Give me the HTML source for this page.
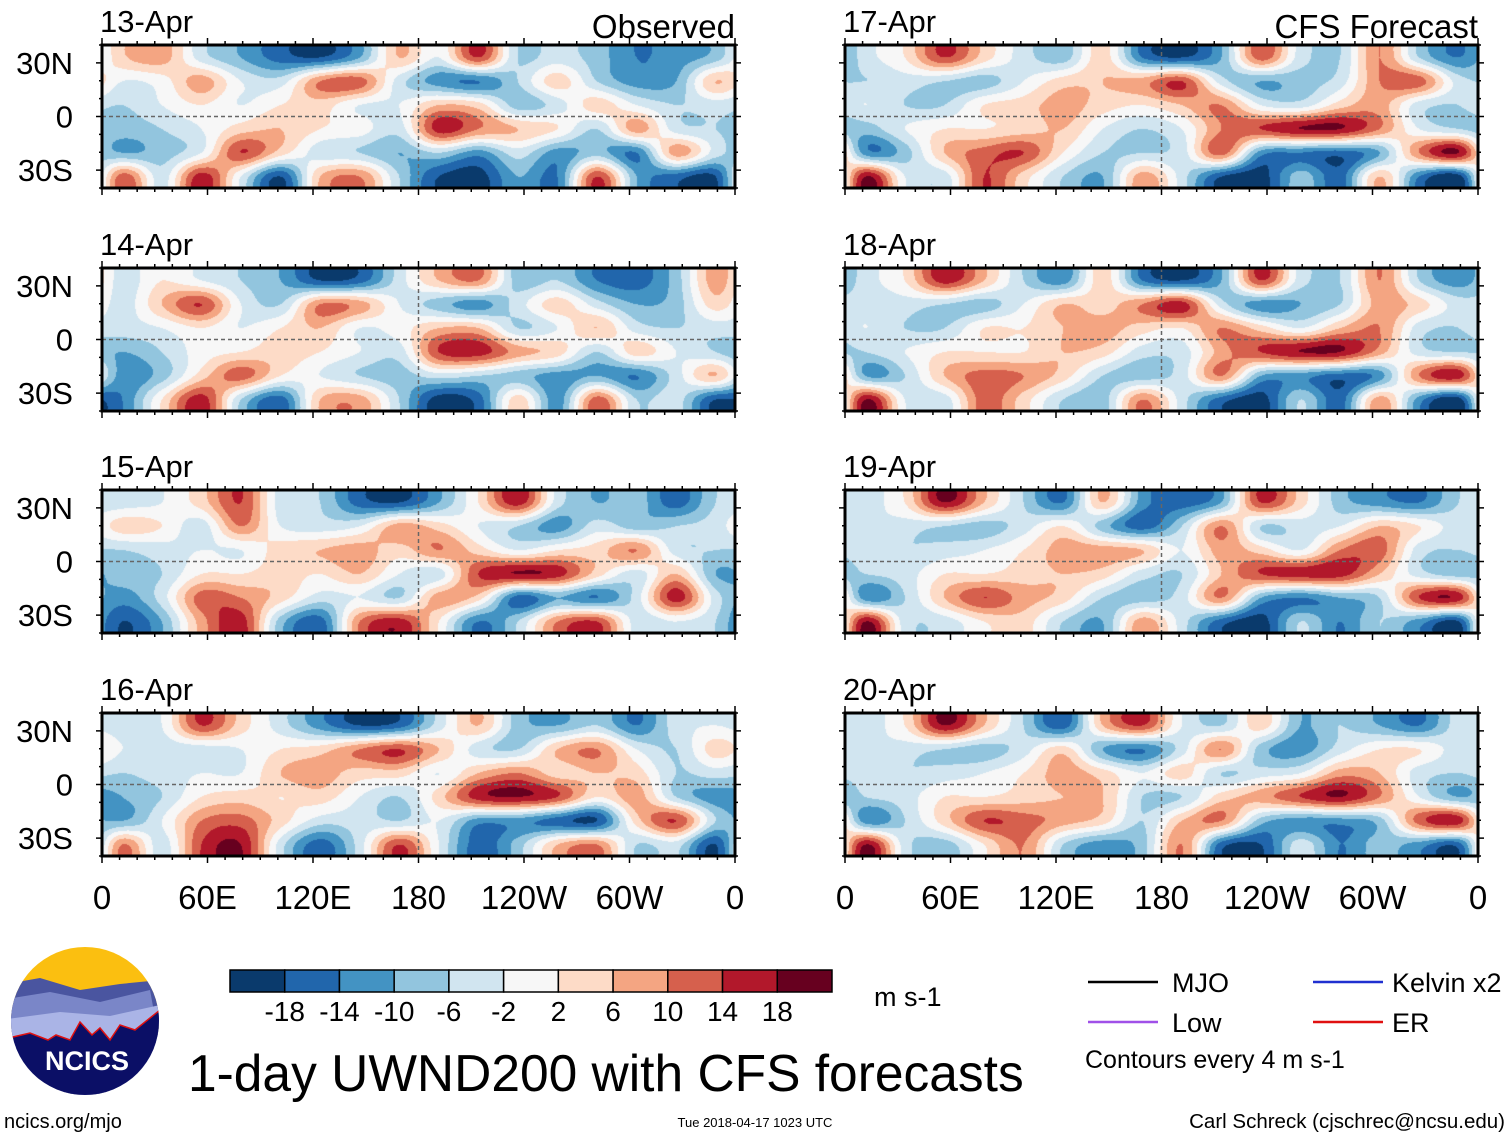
<!DOCTYPE html>
<html><head><meta charset="utf-8"><style>
html,body{margin:0;padding:0;background:#fff;}
#root{position:relative;width:1510px;height:1137px;overflow:hidden;font-family:"Liberation Sans",Arial,sans-serif;}
canvas{position:absolute;}
svg{position:absolute;left:0;top:0;}
</style></head><body>
<div id="root">
<svg id="ov" width="1510" height="1137"></svg>
</div>
<script>
const panelDates = ["13-Apr","14-Apr","15-Apr","16-Apr","17-Apr","18-Apr","19-Apr","20-Apr"];
const lonTicks = ["0","60E","120E","180","120W","60W","0"];
const latTicks = ["30N","0","30S"];
const latTickValues = [30,0,-30];
const levelLabels = ["-18","-14","-10","-6","-2","2","6","10","14","18"];
const levelBounds = [-18,-14,-10,-6,-2,2,6,10,14,18];
const levelColors = ["#0a3a6c","#2166ac","#4393c3","#92c5de","#d1e5f0","#f7f7f7","#fddbc7","#f4a582","#d6604d","#b2182b","#67001f"];
const field13 = [[5,8,-4,-10,-16,-18,-10,6,-2,14,-6,-4,-8,-14,-12,-8],[-2,0,8,-2,-4,10,12,-4,-12,-14,-6,4,-6,-12,-10,6],[-6,-2,2,-2,2,4,-2,-2,6,4,-8,-4,4,-2,-6,-4],[-8,-6,-2,4,6,2,0,-4,16,10,6,2,-6,8,-4,-6],[-10,-8,-2,14,4,-4,-6,-10,-6,-12,-4,-12,-8,-14,8,-4],[12,-4,16,-2,-18,6,10,-6,-18,-20,-10,-14,14,-10,-16,-18]];
const field14 = [[-4,2,-2,-6,-10,-18,-16,-4,6,10,-8,-6,-14,-16,-8,8],[-4,6,14,-2,-6,10,8,-2,-8,-12,-4,4,-4,-10,-8,4],[-4,-2,2,-2,2,6,-2,0,6,6,-6,-2,6,-4,-6,-4],[-10,-6,0,2,4,2,-2,-4,14,16,8,4,-6,4,-2,-6],[-12,-8,4,12,2,-2,-6,-8,-4,-6,-8,-12,-10,-14,-4,6],[-14,2,16,-6,-16,6,8,-6,-20,-16,4,-12,12,-6,-4,-18]];
const field15 = [[-4,-2,4,14,-4,-6,-16,-18,-10,2,16,-4,-10,-8,-16,-6],[4,2,-4,10,-2,-4,-2,8,4,-2,-6,-12,-4,-8,-6,-4],[-6,-4,-2,-2,4,6,8,4,10,4,-2,2,4,10,-4,-6],[-8,-6,2,2,4,2,6,-2,-4,14,18,16,4,-4,6,-10],[-12,-4,12,10,4,-4,-2,-6,8,4,-16,-10,-14,-4,16,-4],[-18,-10,8,16,-8,-16,10,16,2,-14,-6,10,14,-4,-2,-6]];
const field16 = [[-4,-2,14,4,-4,-12,-18,-16,-4,6,-8,-10,-6,-14,-4,-2],[-2,-4,-4,-2,2,4,10,14,6,-4,-6,6,10,-2,-6,4],[-6,-4,-2,-2,6,8,4,4,-2,6,10,4,6,4,-6,-4],[-10,-6,2,4,2,4,-2,-6,4,16,18,14,2,8,-6,-12],[-10,-2,10,12,4,-4,-4,-6,-2,-12,-12,-16,-18,4,14,-6],[10,-4,14,18,-4,-16,-4,14,-2,-16,-8,6,10,-6,-4,-18]];
const field17 = [[-4,2,14,4,-4,-8,4,-14,-18,-10,12,-4,-6,10,-6,-14],[-6,-4,-6,-8,-2,4,6,8,14,-4,-10,-8,-4,10,12,-4],[-2,-6,-6,2,4,8,4,2,6,10,-2,-4,4,8,-4,-6],[-8,-2,2,2,4,6,-2,-6,-2,10,14,18,18,10,-2,-6],[-12,-8,6,12,14,2,-6,-6,-4,12,-12,-14,-16,-10,10,18],[18,-2,-4,14,4,-6,-10,8,-4,-18,-20,-8,-16,6,-14,-20]];
const field18 = [[-4,2,16,6,-6,-12,4,-14,-18,-10,14,-4,-6,10,-6,-12],[-4,-4,-6,-8,-2,6,4,10,16,-4,-12,-10,-6,8,4,-4],[-2,-6,-6,2,2,6,8,4,2,10,4,-2,6,10,-4,-6],[-6,-2,2,2,2,6,4,-4,-4,8,14,18,18,8,-4,-6],[-10,-6,6,12,10,4,-6,-8,-4,10,-10,-12,-16,-12,10,16],[18,-2,-4,12,4,-6,-8,10,-4,-16,-20,-6,-16,8,-12,-20]];
const field19 = [[-4,2,18,6,-6,-14,6,-12,-16,-10,14,4,-8,-12,-14,-6],[-2,-4,-6,-8,-4,2,-8,-16,-6,10,-6,-4,-2,6,2,-4],[-4,-6,-4,-2,2,8,8,6,-2,8,4,-2,10,12,-4,-6],[-6,-4,2,2,4,6,4,-4,-6,6,14,16,16,6,-4,-8],[-12,-6,6,14,8,4,-6,-8,-4,10,-10,-14,-10,-6,14,16],[18,-4,-4,2,4,-6,-10,8,-4,-16,-20,-6,-14,-6,-12,-18]];
const field20 = [[-4,2,18,6,-6,-16,6,14,-2,-6,4,-10,-6,-10,-14,-4],[-2,-4,-6,-8,-4,4,-10,-14,-4,10,-8,-12,-4,2,2,-4],[-4,-6,-4,-2,2,8,4,-2,4,-6,-4,-2,8,6,-4,-6],[-6,-4,2,2,4,6,6,-6,-6,4,8,14,18,10,-2,-10],[-12,-6,4,14,12,8,4,-6,6,10,-8,-12,-12,-8,12,16],[18,-4,-8,2,10,-6,-12,-8,10,-16,-18,-4,-14,-8,-12,-16]];
const fields = [field13,field14,field15,field16,field17,field18,field19,field20];

const NS="http://www.w3.org/2000/svg";
const root=document.getElementById('root');
const ov=document.getElementById('ov');
function mk(tag,attrs,parent){const e=document.createElementNS(NS,tag);for(const k in attrs)e.setAttribute(k,attrs[k]);(parent||ov).appendChild(e);return e;}
function txt(s,attrs){const e=mk('text',attrs);e.textContent=s;return e;}

const PW=633, PH=143;
const colX=[102,845], rowY=[45,268,490,713];
function xScale(px,lon){return px+lon/360*PW;}
function yScale(py,lat){return py+(40-lat)/80*PH;}
function colorFor(v){let i=0;while(i<levelBounds.length&&v>=levelBounds[i])i++;return levelColors[i];}
function cr(p0,p1,p2,p3,t){return 0.5*((2*p1)+(-p0+p2)*t+(2*p0-5*p1+4*p2-p3)*t*t+(-p0+3*p1-3*p2+p3)*t*t*t);}
function sample(g,fx,fy){
  const R=g.length,C=g[0].length;
  let x=fx*C-0.5,y=fy*R-0.5;
  const x0=Math.floor(x),y0=Math.floor(y),tx=x-x0,ty=y-y0;
  const gc=(r,c)=>g[Math.max(0,Math.min(R-1,r))][((c%C)+C)%C];
  const rows=[];
  for(let j=-1;j<=2;j++){rows.push(cr(gc(y0+j,x0-1),gc(y0+j,x0),gc(y0+j,x0+1),gc(y0+j,x0+2),tx));}
  return cr(rows[0],rows[1],rows[2],rows[3],ty);
}
const rgbCache={};
function rgb(h){if(!rgbCache[h])rgbCache[h]=[1,3,5].map(i=>parseInt(h.substr(i,2),16));return rgbCache[h];}

fields.forEach((g,k)=>{
  const col=k<4?0:1,row=k%4;
  const px=colX[col],py=rowY[row];
  const cv=document.createElement('canvas');
  cv.width=PW;cv.height=PH;cv.style.left=px+'px';cv.style.top=py+'px';
  
  
  root.insertBefore(cv,ov);
  const ctx=cv.getContext('2d');const im=ctx.createImageData(PW,PH);
  for(let y=0;y<PH;y++)for(let x=0;x<PW;x++){
    const c=rgb(colorFor(sample(g,x/PW,y/PH)));const o=(y*PW+x)*4;
    im.data[o]=c[0];im.data[o+1]=c[1];im.data[o+2]=c[2];im.data[o+3]=255;}
  ctx.putImageData(im,0,0);
  const gp=mk('g',{});
  
  
  mk('line',{x1:px,x2:px+PW,y1:yScale(py,0),y2:yScale(py,0),stroke:'#666','stroke-width':1.5,'stroke-dasharray':'4,3'},gp);
  mk('line',{x1:xScale(px,180),x2:xScale(px,180),y1:py,y2:py+PH,stroke:'#666','stroke-width':1.5,'stroke-dasharray':'4,3'},gp);
  mk('rect',{x:px,y:py,width:PW,height:PH,fill:'none',stroke:'#000','stroke-width':3},gp);
  for(let lon=0;lon<=360;lon+=10){
    const L=lon%60===0?7:4,xx=xScale(px,lon);
    mk('line',{x1:xx,x2:xx,y1:py,y2:py-L,stroke:'#000','stroke-width':1.5},gp);
    mk('line',{x1:xx,x2:xx,y1:py+PH,y2:py+PH+L,stroke:'#000','stroke-width':1.5},gp);
  }
  for(let lat=-40;lat<=40;lat+=10){
    const L=lat%30===0?6:3,yy=yScale(py,lat);
    mk('line',{x1:px,x2:px-L,y1:yy,y2:yy,stroke:'#000','stroke-width':1.5},gp);
    mk('line',{x1:px+PW,x2:px+PW+L,y1:yy,y2:yy,stroke:'#000','stroke-width':1.5},gp);
  }
  const t=txt(panelDates[k],{x:px-2,y:py-13,'font-size':31,fill:'#000'});
  
  
  if(col===0){
    latTicks.forEach((s,i)=>{const e=txt(s,{x:73,y:yScale(py,latTickValues[i])+11,'font-size':31,'text-anchor':'end'});
      
      });
  }
});
[[735,'Observed'],[1478,'CFS Forecast']].forEach(([x,s])=>{
  const e=txt(s,{x:x,y:38,'font-size':33,'text-anchor':'end'});
  
  
});
colX.forEach(px=>{lonTicks.forEach((s,i)=>{
  const e=txt(s,{x:xScale(px,i*60),y:909,'font-size':33,'text-anchor':'middle'});
  
  });});

const cbX=230,cbW=602,cbY=970,cbH=22,bw=cbW/levelColors.length;
const cb=mk('g',{});


levelColors.forEach((c,i)=>mk('rect',{x:cbX+i*bw,y:cbY,width:bw,height:cbH,fill:c,stroke:'#000','stroke-width':1.5},cb));
levelLabels.forEach((s,i)=>{const e=txt(s,{x:cbX+(i+1)*bw,y:1021,'font-size':28,'text-anchor':'middle'});
  
  });
const un=txt('m s-1',{x:874,y:1006,'font-size':27});


const ti=txt('1-day UWND200 with CFS forecasts',{x:188,y:1091,'font-size':51.5});


[[1088,982,'#000','MJO',1172],[1088,1022,'#a050e8','Low',1172],[1313,982,'#2030d0','Kelvin x2',1392],[1313,1022,'#e01010','ER',1392]].forEach(([x,y,c,s,tx])=>{
  const l=mk('line',{x1:x,x2:x+70,y1:y,y2:y,stroke:c,'stroke-width':2.5});
  
  
  const e=txt(s,{x:tx,y:y+10,'font-size':27});
  
  
});
const ce=txt('Contours every 4 m s-1',{x:1085,y:1068,'font-size':25});


const f1=txt('ncics.org/mjo',{x:4,y:1128,'font-size':20});


const f2=txt('Tue 2018-04-17 1023 UTC',{x:755,y:1127,'font-size':13,'text-anchor':'middle'});


const f3=txt('Carl Schreck (cjschrec@ncsu.edu)',{x:1505,y:1128,'font-size':20.5,'text-anchor':'end'});


const lg=mk('g',{});


mk('clipPath',{id:'lc'},lg).appendChild((()=>{const c=document.createElementNS(NS,'circle');c.setAttribute('cx',85);c.setAttribute('cy',1021);c.setAttribute('r',74);return c;})());
const lgi=mk('g',{'clip-path':'url(#lc)'},lg);
mk('rect',{x:0,y:940,width:170,height:160,fill:'#fbbf10'},lgi);
mk('path',{d:'M0 985 L40 978 L80 990 L120 984 L160 980 L170 1100 L0 1100Z',fill:'#4a55a0'},lgi);
mk('path',{d:'M0 1000 L50 992 L100 1002 L150 990 L170 1100 L0 1100Z',fill:'#7a86c8'},lgi);
mk('path',{d:'M0 1020 L60 1012 L110 1016 L160 1005 L170 1100 L0 1100Z',fill:'#aab4e6'},lgi);
mk('path',{d:'M0 1040 L30 1033 L48 1040 L56 1035 L70 1040 L80 1022 L92 1035 L100 1028 L110 1040 L120 1025 L135 1030 L160 1010 L170 1100 L0 1100Z',fill:'#0b0f66',stroke:'#e01010','stroke-width':1.5},lgi);
const lt=txt('NCICS',{x:87,y:1070,'font-size':27,'font-weight':'bold',fill:'#fff','text-anchor':'middle'});


</script>
</body></html>
